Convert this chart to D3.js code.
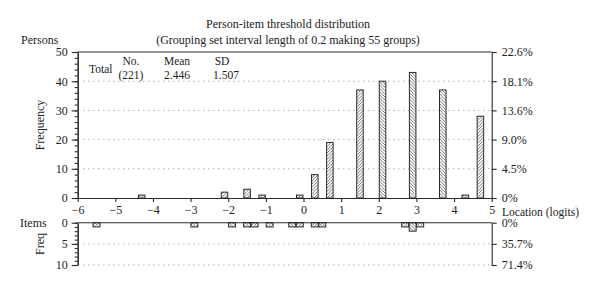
<!DOCTYPE html>
<html lang="en">
<head>
  <meta charset="UTF-8">
  <title>Person-item threshold distribution</title>
  <script src="https://cdn.jsdelivr.net/npm/d3@7/dist/d3.min.js"></script>
  <style>
    body { margin: 0; background: #fff; }
    text { font-family: "Liberation Serif", "DejaVu Serif", serif; fill: #222; }
  </style>
</head>
<body>
  <svg width="600" height="292"></svg>
  <script>
    // person frequencies by group centre (logits)
    var personBins = [-4.3, -2.1, -1.5, -1.1, -0.1, 0.3, 0.7, 1.5, 2.1, 2.9, 3.7, 4.3, 4.7];
    var personFreq = [1, 2, 3, 1, 1, 8, 19, 37, 40, 43, 37, 1, 28];
    var personHatch = ["/", "/", "/", "/", "/", "/", "/", "/", "\\", "\\", "\\", "/", "/"];

    // item threshold frequencies
    var itemBins = [-5.5, -2.9, -1.9, -1.5, -1.3, -0.9, -0.3, -0.1, 0.3, 0.5, 2.7, 2.9, 3.1];
    var itemFreq = [1, 1, 1, 1, 1, 1, 1, 1, 1, 1, 1, 2, 1];
    var itemHatch = ["\\", "/", "\\", "\\", "/", "\\", "\\", "/", "/", "\\", "/", "\\", "/"];

    var xTicks = d3.range(-6, 6);
    var personTicks = [0, 10, 20, 30, 40, 50];
    var personPct = ["0%", "4.5%", "9.0%", "13.6%", "18.1%", "22.6%"];
    var itemTicks = [0, 5, 10];
    var itemPct = ["0%", "35.7%", "71.4%"];

    var stats = { no: "(221)", mean: "2.446", sd: "1.507" };
    var binWidth = 0.2;

    var svg = d3.select("svg");
    var ink = "#2a2a2a";

    var x = d3.scaleLinear().domain([-6, 5]).range([77.7, 491.7]);
    var yP = d3.scaleLinear().domain([0, 50]).range([198, 52]);
    var yI = d3.scaleLinear().domain([0, 10]).range([222.7, 265]);

    // hatch patterns
    var defs = svg.append("defs");
    function hatch(id, dir) {
      var p = defs.append("pattern")
        .attr("id", id)
        .attr("patternUnits", "userSpaceOnUse")
        .attr("width", 3.2).attr("height", 3.2);
      p.append("rect").attr("width", 3.2).attr("height", 3.2).attr("fill", "#fff");
      var d = dir == "/" ? "M-1,1 L1,-1 M0,3.2 L3.2,0 M2.2,4.2 L4.2,2.2"
                         : "M-1,2.2 L1,4.2 M0,0 L3.2,3.2 M2.2,-1 L4.2,1";
      p.append("path").attr("d", d).attr("stroke", "#555").attr("stroke-width", 0.8);
    }
    hatch("hf", "/");
    hatch("hb", "\\");

    // gridlines
    svg.append("g").selectAll("line")
      .data(personTicks.slice(1, -1))
      .enter().append("line")
      .attr("x1", x(-5.85)).attr("x2", x(5))
      .attr("y1", function (d) { return yP(d); })
      .attr("y2", function (d) { return yP(d); })
      .attr("stroke", "#888").attr("stroke-dasharray", "1,4");
    svg.append("g").selectAll("line")
      .data(itemTicks.slice(1))
      .enter().append("line")
      .attr("x1", x(-5.85)).attr("x2", x(5))
      .attr("y1", function (d) { return yI(d); })
      .attr("y2", function (d) { return yI(d); })
      .attr("stroke", "#888").attr("stroke-dasharray", "1,4");

    // person bars
    svg.append("g").selectAll("rect")
      .data(personBins)
      .enter().append("rect")
      .attr("x", function (d) { return x(d - binWidth / 2) + 0.5; })
      .attr("width", function (d) { return x(d + binWidth / 2) - x(d - binWidth / 2) - 1; })
      .attr("y", function (d, i) { return yP(personFreq[i]); })
      .attr("height", function (d, i) { return yP(0) - yP(personFreq[i]); })
      .attr("fill", function (d, i) { return personHatch[i] == "/" ? "url(#hf)" : "url(#hb)"; })
      .attr("stroke", ink).attr("stroke-width", 1);

    // item bars (hang downward)
    svg.append("g").selectAll("rect")
      .data(itemBins)
      .enter().append("rect")
      .attr("x", function (d) { return x(d - binWidth / 2) + 0.3; })
      .attr("width", function (d) { return x(d + binWidth / 2) - x(d - binWidth / 2) - 0.6; })
      .attr("y", yI(0))
      .attr("height", function (d, i) { return yI(itemFreq[i]) - yI(0); })
      .attr("fill", function (d, i) { return itemHatch[i] == "/" ? "url(#hf)" : "url(#hb)"; })
      .attr("stroke", ink).attr("stroke-width", 1);

    function styleAxis(g) {
      g.selectAll("path, line").attr("stroke", ink).attr("stroke-width", 1.1);
      g.selectAll("text").attr("font-family", "Liberation Serif").attr("font-size", 12).attr("fill", "#222");
    }

    // upper panel axes
    svg.append("g").attr("transform", "translate(" + x(-6) + ",0)")
      .call(d3.axisLeft(yP).tickValues(d3.range(0, 51, 2)).tickFormat("").tickSize(3).tickSizeOuter(0))
      .call(styleAxis);
    svg.append("g").attr("transform", "translate(" + x(-6) + ",0)")
      .call(d3.axisLeft(yP).tickValues(personTicks).tickSize(6).tickSizeOuter(0).tickPadding(4))
      .call(styleAxis);
    svg.append("g").attr("transform", "translate(" + x(5) + ",0)")
      .call(d3.axisRight(yP).tickValues(personTicks)
        .tickFormat(function (d, i) { return personPct[i]; }).tickSize(5).tickSizeOuter(0).tickPadding(5))
      .call(styleAxis);
    svg.append("g").attr("transform", "translate(0," + yP(0) + ")")
      .call(d3.axisBottom(x).tickValues(xTicks)
        .tickFormat(function (d) { return d < 0 ? "\u2212" + Math.abs(d) : d; }).tickSize(4).tickSizeOuter(0).tickPadding(3))
      .call(styleAxis);
    svg.append("line")
      .attr("x1", x(-6)).attr("x2", x(5)).attr("y1", yP(50)).attr("y2", yP(50))
      .attr("stroke", ink).attr("stroke-width", 1.1);

    // lower panel axes
    svg.append("g").attr("transform", "translate(" + x(-6) + ",0)")
      .call(d3.axisLeft(yI).tickValues(d3.range(0, 11, 1)).tickFormat("").tickSize(3).tickSizeOuter(0))
      .call(styleAxis);
    svg.append("g").attr("transform", "translate(" + x(-6) + ",0)")
      .call(d3.axisLeft(yI).tickValues(itemTicks).tickSize(6).tickSizeOuter(0).tickPadding(4))
      .call(styleAxis);
    svg.append("g").attr("transform", "translate(" + x(5) + ",0)")
      .call(d3.axisRight(yI).tickValues(itemTicks)
        .tickFormat(function (d, i) { return itemPct[i]; }).tickSize(5).tickSizeOuter(0).tickPadding(5))
      .call(styleAxis);
    svg.append("line")
      .attr("x1", x(-6)).attr("x2", x(5)).attr("y1", yI(0)).attr("y2", yI(0))
      .attr("stroke", ink).attr("stroke-width", 1.1);

    // titles and labels
    svg.append("text").attr("x", 288).attr("y", 28).attr("text-anchor", "middle")
      .attr("font-size", 12).text("Person-item threshold distribution");
    svg.append("text").attr("x", 288).attr("y", 44).attr("text-anchor", "middle")
      .attr("font-size", 12).text("(Grouping set interval length of 0.2 making 55 groups)");
    svg.append("text").attr("x", 21).attr("y", 44).attr("font-size", 12).text("Persons");
    svg.append("text").attr("x", 20).attr("y", 227).attr("font-size", 12).text("Items");
    svg.append("text").attr("x", 502).attr("y", 215.5).attr("font-size", 11.5).text("Location (logits)");
    svg.append("text").attr("transform", "translate(44,125) rotate(-90)")
      .attr("text-anchor", "middle").attr("font-size", 12).text("Frequency");
    svg.append("text").attr("transform", "translate(44,244) rotate(-90)")
      .attr("text-anchor", "middle").attr("font-size", 12).text("Freq");

    // summary block
    svg.append("text").attr("x", 89).attr("y", 73).attr("font-size", 11.5).text("Total");
    svg.append("text").attr("x", 131).attr("y", 65).attr("text-anchor", "middle").attr("font-size", 11.5).text("No.");
    svg.append("text").attr("x", 131).attr("y", 78.5).attr("text-anchor", "middle").attr("font-size", 11.5).text(stats.no);
    svg.append("text").attr("x", 177).attr("y", 65).attr("text-anchor", "middle").attr("font-size", 11.5).text("Mean");
    svg.append("text").attr("x", 177).attr("y", 78.5).attr("text-anchor", "middle").attr("font-size", 11.5).text(stats.mean);
    svg.append("text").attr("x", 222).attr("y", 65).attr("text-anchor", "middle").attr("font-size", 11.5).text("SD");
    svg.append("text").attr("x", 226).attr("y", 78.5).attr("text-anchor", "middle").attr("font-size", 11.5).text(stats.sd);
  </script>
</body>
</html>
